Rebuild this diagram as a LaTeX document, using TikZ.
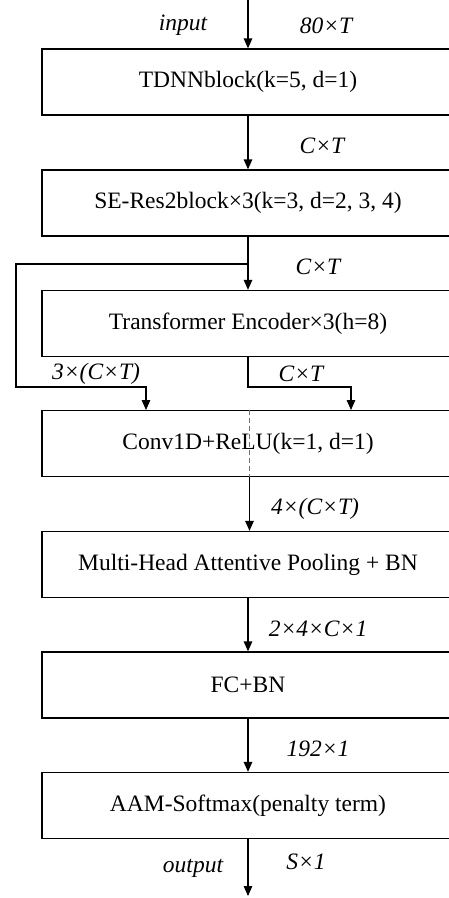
\documentclass[tikz,border=0pt]{standalone}
\usepackage{fontspec}
\setmainfont{Liberation Serif}
\usetikzlibrary{arrows.meta,calc}

\begin{document}
\begin{tikzpicture}[x=1pt,y=-1pt,
	blk/.style={draw, line width=1.3pt, minimum width=412pt, minimum height=66pt, inner sep=0pt, font=\fontsize{23.5}{28}\selectfont},
	dimlab/.style={font=\fontsize{23.5}{28}\selectfont\itshape, inner sep=0pt},
	arr/.style={line width=1.3pt, -{Triangle[length=10pt,width=8.5pt]}}]
	\useasboundingbox (0,0) rectangle (448,898);
	
	\node[blk] (tdnn) at (248,82) {TDNNblock(k=5, d=1)};
	\node[blk] (seres) at (248,203) {SE-Res2block×3(k=3, d=2, 3, 4)};
	\node[blk] (trans) at (248,323.5) {Transformer Encoder×3(h=8)};
	\node[blk] (conv) at (248,443.5) {Conv1D+ReLU(k=1, d=1)};
	\node[blk] (mhap) at (248,564.5) {Multi-Head Attentive Pooling + BN};
	\node[blk] (fcbn) at (248,685) {FC+BN};
	\node[blk] (aam) at (248,805.5) {AAM-Softmax(penalty term)};
	
	\coordinate (in) at (248,0);
	\coordinate (split) at (248,264);
	\coordinate (skipB) at (16,387);
	\coordinate (joinR) at (351,387);
	\coordinate (inL) at (146,410);
	\coordinate (inR) at (351,410);
	\coordinate (out) at (248,896);
	
	\draw[arr] (in) -- (tdnn.north);
	\draw[arr] (tdnn.south) -- (seres.north);
	\draw[arr] (seres.south) -- (trans.north);
	\draw[arr] (split) -| (skipB) -| (inL);
	\draw[arr] (trans.south) |- (joinR) -- (inR);
	\draw[black!55, line width=1.5pt, dash pattern=on 5pt off 3pt] ([xshift=1.5pt]conv.north) -- ([xshift=1.5pt]conv.south);
	\draw[arr] ([xshift=1.5pt]conv.south) -- ([xshift=1.5pt]mhap.north);
	\draw[arr] (mhap.south) -- (fcbn.north);
	\draw[arr] (fcbn.south) -- (aam.north);
	\draw[arr] (aam.south) -- (out);
	
	\node[dimlab] (lin) at (183,25) {input};
	\node[dimlab] (l1) at (326,26) {80×T};
	\node[dimlab] (l2) at (322,146) {C×T};
	\node[dimlab] (l3) at (318,267) {C×T};
	\node[dimlab] (l4) at (96,374) {3×(C×T)};
	\node[dimlab] (l5) at (301,374) {C×T};
	\node[dimlab] (l6) at (315,509) {4×(C×T)};
	\node[dimlab] (l7) at (318,629) {2×4×C×1};
	\node[dimlab] (l8) at (318,749) {192×1};
	\node[dimlab] (l9) at (306,862) {S×1};
	\node[dimlab] (lout) at (193,868) {output};
\end{tikzpicture}
\end{document}
